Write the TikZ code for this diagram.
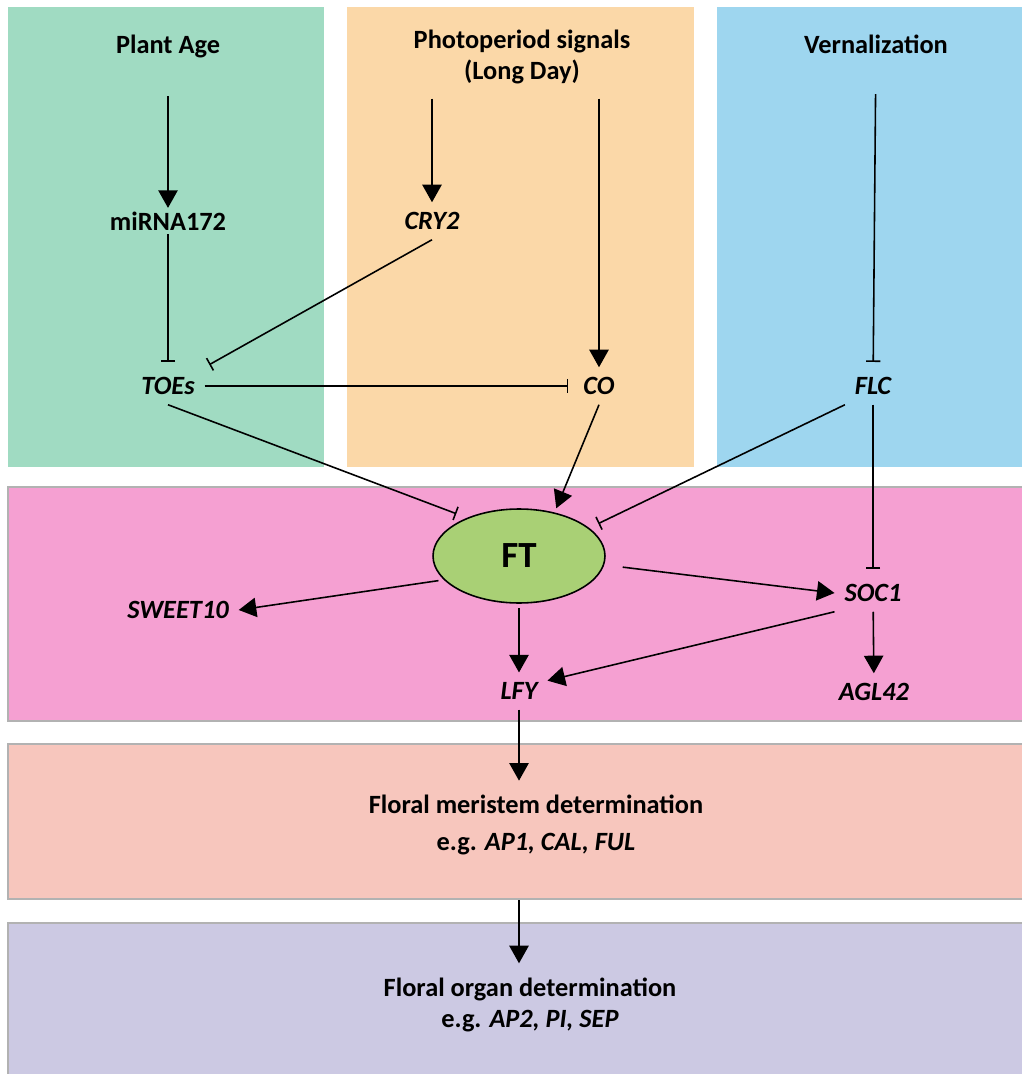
\documentclass[tikz,border=0pt]{standalone}
\usepackage{fontspec}
\setmainfont{Carlito}
\usepackage{xcolor}
\usepackage{tikz}
\usetikzlibrary{positioning}
\usetikzlibrary{arrows.meta,fit,shapes.geometric}
\definecolor{agegreen}{RGB}{160,219,194}
\definecolor{photoorange}{RGB}{251,216,168}
\definecolor{vernblue}{RGB}{158,214,239}
\definecolor{ftpink}{RGB}{245,160,210}
\definecolor{meristsalmon}{RGB}{247,198,189}
\definecolor{organlilac}{RGB}{204,201,227}
\definecolor{ftgreen}{RGB}{169,208,117}
\tikzset{%
  act/.style = {-{Triangle[length=10pt,width=11pt]},line width=0.9pt},
  inh/.style = {-{Bar[width=8pt]},line width=0.9pt,shorten >=3pt},
  lbl/.style = {font=\fontsize{15}{18}\selectfont\bfseries,align=center,
        inner sep=2pt},
  gene/.style = {font=\fontsize{15}{18}\selectfont\bfseries\itshape,
        inner sep=5.5pt},
  panel/.style = {inner sep=0pt},
  band/.style = {draw=black!30,line width=1.3pt,inner sep=0pt},
  ftnode/.style = {ellipse,draw,fill=ftgreen,line width=0.9pt,
        minimum width=3.44cm,minimum height=1.88cm,outer sep=3pt,
        font=\fontsize{21}{24}\selectfont\bfseries}
}

\begin{document}
\begin{tikzpicture}[x=0.02cm,y=-0.02cm]
                            \useasboundingbox (0,0) rectangle (1021,1074);
                            % coloured panels
                            \node[panel,fill=agegreen,fit={(8,7) (324,467)}] (agep) {};
                            \node[panel,fill=photoorange,fit={(347,7) (694,467)}] (photop) {};
                            \node[panel,fill=vernblue,fit={(717,7) (1030,467)}] (vernp) {};
                            \node[band,fill=ftpink,fit={(8,487) (1030,721)}] (ftbox) {};
                            \node[band,fill=meristsalmon,fit={(8,744) (1030,899)}] (merbox) {};
                            \node[band,fill=organlilac,fit={(8,923) (1030,1090)}] (orgbox) {};
                            % signals and genes
                            \node[lbl] (age) at (168,46) {Plant Age};
                            \node[lbl] (mir) at (168,221) {miRNA172};
                            \node[gene] (toes) at (168,386) {TOEs};
                            \node[lbl] (photo) at (522,57) {Photoperiod signals\\(Long Day)};
                            \node[gene] (cry2) at (432,221) {CRY2};
                            \node[gene] (co) at (599,386) {CO};
                            \node[lbl] (vern) at (876,44) {Vernalization};
                            \node[gene] (flc) at (873,386) {FLC};
                            \node[ftnode] (ft) at (519,556) {FT};
                            \node[gene] (sweet) at (178,610) {SWEET10};
                            \node[gene] (soc1) at (873,593) {SOC1};
                            \node[gene] (lfy) at (519,691) {LFY};
                            \node[gene] (agl) at (874,692) {AGL42};
                            \node[lbl,inner sep=8pt] (merist) at (536,825) {Floral meristem determination\\[3pt]e.g. \textit{AP1, CAL, FUL}};
                            \node[lbl,inner sep=8pt] (organ) at (530,1005) {Floral organ determination\\e.g. \textit{AP2, PI, SEP}};
                            \path[act] (age) edge[shorten <=20pt] (mir)
                                      (cry2 |- photo.south) edge[shorten <=6pt] (cry2)
                                      (co |- photo.south) edge[shorten <=6pt] (co)
                                      (co.south) edge (ft.52)
                                      (ft.197) edge (sweet.east)
                                      (ft.-6) edge[shorten <=8pt] (soc1.west)
                                      (ft) edge (lfy)
                                      (soc1.south west) edge (lfy.20)
                                      (soc1) edge (agl)
                                      (lfy) edge (lfy |- merist.north)
                                      (merbox.south -| lfy) edge (lfy |- organ.north);
                            \path[inh] (mir) edge (toes)
                                      (cry2.south) edge (toes.north east)
                                      (toes) edge (co)
                                      (toes.south) edge (ft.145)
                                      (vern) edge[shorten <=21pt] (flc)
                                      (flc.south west) edge (ft.22)
                                      (flc) edge (soc1);
                        \end{tikzpicture}
\end{document}
